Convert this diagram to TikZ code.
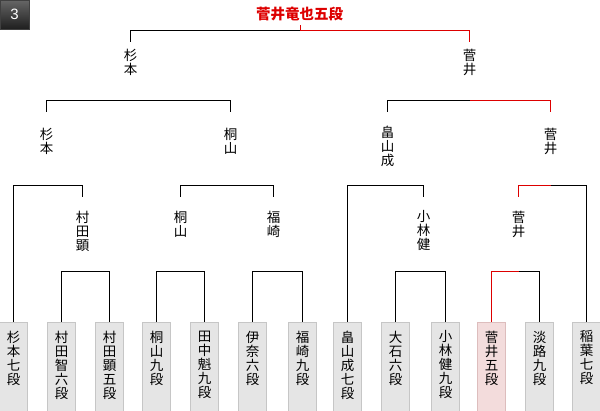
\documentclass[tikz,border=0pt]{standalone}
\usepackage{fontspec}
\newfontfamily\cjk{Noto Sans CJK JP}
\newfontfamily\badgefont{Liberation Sans}
\definecolor{winred}{HTML}{DD0000}
\definecolor{boxfill}{HTML}{E5E5E5}
\definecolor{boxline}{HTML}{C6C6C6}
\definecolor{winfill}{HTML}{F3DCDC}
\definecolor{winline}{HTML}{DDBDBD}
\begin{document}
\begin{tikzpicture}[x=1pt,y=-1pt,
  ln/.style={line width=1pt, black},
  win/.style={line width=1pt, winred},
  leafbox/.style={draw=boxline, fill=boxfill, minimum width=28pt, minimum height=95pt, anchor=north, inner sep=0pt, line width=1pt},
  winbox/.style={leafbox, draw=winline, fill=winfill},
  vtxt/.style={font=\cjk\fontsize{13.5}{14}\selectfont, align=center, inner sep=0pt, anchor=north},
  titletxt/.style={font=\cjk\bfseries\fontsize{14.5}{16}\selectfont, text=winred, inner sep=0pt},
  badge/.style={minimum width=29pt, minimum height=29pt, inner sep=0pt, top color=black!60, bottom color=black!88, draw=black!75, line width=0.6pt, text=white, font=\badgefont\fontsize{15}{15}\selectfont}
]
\useasboundingbox (0,0) rectangle (600,410);
\begin{scope}[shift={(0.5,0.5)}]
% badge and title
\node[badge] (B) at (14,14) {3};
\node[titletxt] (T) at (299,13.5) {菅井竜也五段};
\coordinate (tT) at (300,24);

% leaves
\node[leafbox] (L1) at (13,321) {};
\node[leafbox] (L2) at (61,321) {};
\node[leafbox] (L3) at (109,321) {};
\node[leafbox] (L4) at (156,321) {};
\node[leafbox] (L5) at (204,321) {};
\node[leafbox] (L6) at (252,321) {};
\node[leafbox] (L7) at (302,321) {};
\node[leafbox] (L8) at (347,321) {};
\node[leafbox] (L9) at (395,321) {};
\node[leafbox] (L10) at (445,321) {};
\node[winbox] (L11) at (491,321) {};
\node[leafbox] (L12) at (539,321) {};
\node[leafbox] (L13) at (586,321) {};

\node[vtxt] (N1) at (13,330) {杉\\本\\七\\段};
\node[vtxt] (N2) at (61,330) {村\\田\\智\\六\\段};
\node[vtxt] (N3) at (109,330) {村\\田\\顕\\五\\段};
\node[vtxt] (N4) at (156,330) {桐\\山\\九\\段};
\node[vtxt] (N5) at (204,330) {田\\中\\魁\\九\\段};
\node[vtxt] (N6) at (252,330) {伊\\奈\\六\\段};
\node[vtxt] (N7) at (302,330) {福\\崎\\九\\段};
\node[vtxt] (N8) at (347,330) {畠\\山\\成\\七\\段};
\node[vtxt] (N9) at (395,330) {大\\石\\六\\段};
\node[vtxt] (N10) at (445,330) {小\\林\\健\\九\\段};
\node[vtxt] (N11) at (491,330) {菅\\井\\五\\段};
\node[vtxt] (N12) at (539,330) {淡\\路\\九\\段};
\node[vtxt] (N13) at (586,330) {稲\\葉\\七\\段};

% level 3 winners (under brackets at y=185)
\node[vtxt] (M3a) at (82,210) {村\\田\\顕};
\node[vtxt] (M3b) at (180,210) {桐\\山};
\node[vtxt] (M3c) at (273,210) {福\\崎};
\node[vtxt] (M3d) at (423,210) {小\\林\\健};
\node[vtxt] (M3e) at (518,210) {菅\\井};
\coordinate (tM3a) at (82,196);
\coordinate (tM3b) at (180,196);
\coordinate (tM3c) at (273,196);
\coordinate (tM3d) at (423,196);
\coordinate (tM3e) at (518,196);

% level 2 winners
\node[vtxt] (M2a) at (46,127) {杉\\本};
\node[vtxt] (M2b) at (230,127) {桐\\山};
\node[vtxt] (M2c) at (387,125) {畠\\山\\成};
\node[vtxt] (M2d) at (550,127) {菅\\井};
\coordinate (tM2a) at (46,111);
\coordinate (tM2b) at (230,111);
\coordinate (tM2c) at (387,111);
\coordinate (tM2d) at (550,111);

% level 1 winners
\node[vtxt] (M1a) at (130,48.5) {杉\\本};
\node[vtxt] (M1b) at (469,48.5) {菅\\井};
\coordinate (tM1a) at (130,41);
\coordinate (tM1b) at (469,41);

% bracket corner coordinates
\coordinate (b4a) at (82,271);
\coordinate (b4b) at (180,271);
\coordinate (b4c) at (273,271);
\coordinate (b4d) at (423,271);
\coordinate (b4e) at (518,271);
\coordinate (b3a) at (46,185);
\coordinate (b3b) at (230,185);
\coordinate (b3c) at (387,185);
\coordinate (b3d) at (550,185);
\coordinate (b2a) at (130,100);
\coordinate (b2b) at (469,100);
\coordinate (b1) at (300,30);

% round 1
\draw[ln] (L2.north) |- (b4a) -| (L3.north);
\draw[ln] (L4.north) |- (b4b) -| (L5.north);
\draw[ln] (L6.north) |- (b4c) -| (L7.north);
\draw[ln] (L9.north) |- (b4d) -| (L10.north);
\draw[ln] (L12.north) |- (b4e);
\draw[win] (L11.north) |- (b4e);

% round 2
\draw[ln] (L1.north) |- (b3a) -| (tM3a);
\draw[ln] (tM3b) |- (b3b) -| (tM3c);
\draw[ln] (L8.north) |- (b3c) -| (tM3d);
\draw[ln] (L13.north) |- (b3d);
\draw[win] (tM3e) |- (b3d);

% round 3
\draw[ln] (tM2a) |- (b2a) -| (tM2b);
\draw[ln] (tM2c) |- (b2b);
\draw[win] (tM2d) |- (b2b);

% final
\draw[ln] (tM1a) |- (b1);
\draw[win] (tM1b) |- (b1);
\draw[win] (b1) -- (tT);
\end{scope}
\end{tikzpicture}
\end{document}
